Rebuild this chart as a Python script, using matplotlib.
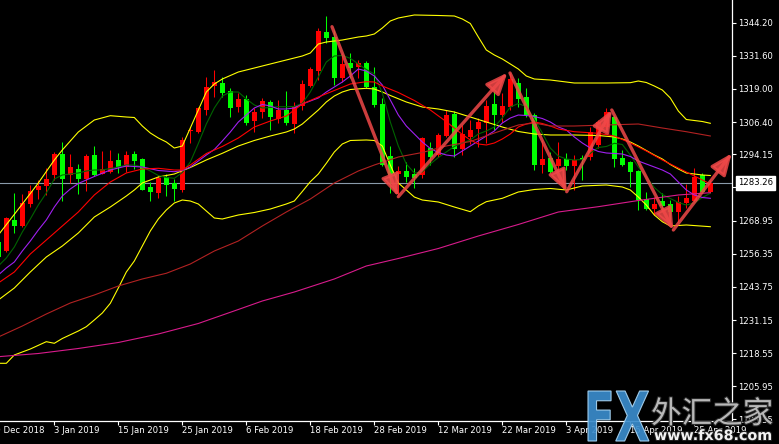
import matplotlib
matplotlib.use("Agg")
import matplotlib.pyplot as plt
import matplotlib.patheffects as pe
from matplotlib import transforms
from matplotlib.textpath import TextPath
from matplotlib.font_manager import FontProperties
from matplotlib.patches import PathPatch

# daily candles, bar index 0 = first (partly hidden) bar
opens = [1260.93, 1257.39, 1269.18, 1266.90, 1275.26, 1280.59, 1282.11, 1286.40, 1294.27, 1286.18,
         1288.57, 1284.77, 1293.89, 1286.67, 1287.55, 1291.99, 1289.45, 1294.27, 1292.26, 1281.84,
         1279.56, 1285.42, 1283.36, 1280.70, 1302.91, 1302.75, 1311.00, 1320.24, 1321.16, 1318.23,
         1312.26, 1315.19, 1306.94, 1310.13, 1313.93, 1307.58, 1311.00, 1305.68, 1312.53, 1320.13,
         1325.83, 1340.55, 1338.88, 1323.06, 1328.99, 1327.47, 1328.76, 1319.64, 1313.29, 1293.51,
         1286.67, 1287.81, 1286.67, 1286.29, 1296.44, 1293.89, 1301.12, 1309.48, 1296.06, 1300.85,
         1303.67, 1306.06, 1313.29, 1309.10, 1312.26, 1321.39, 1315.83, 1309.10, 1290.09, 1292.64,
         1289.71, 1292.37, 1289.71, 1292.87, 1293.25, 1297.70, 1304.54, 1308.46, 1292.87, 1291.35,
         1287.81, 1277.16, 1273.36, 1276.40, 1275.26, 1272.34, 1275.53, 1276.52, 1286.29, 1279.94]
highs = [1261.96, 1270.43, 1279.56, 1279.07, 1282.49, 1284.39, 1289.07, 1295.15, 1298.72, 1294.27,
         1290.47, 1294.16, 1297.32, 1295.42, 1295.80, 1294.77, 1295.53, 1295.53, 1292.64, 1283.74,
         1286.29, 1286.67, 1284.77, 1300.62, 1304.66, 1312.26, 1323.67, 1326.21, 1323.67, 1319.26,
         1317.58, 1316.71, 1311.65, 1315.45, 1314.81, 1314.81, 1318.23, 1314.16, 1322.41, 1327.47,
         1342.07, 1346.75, 1341.42, 1332.56, 1332.79, 1330.02, 1329.64, 1327.47, 1315.45, 1297.32,
         1289.71, 1291.12, 1288.84, 1300.85, 1298.95, 1302.15, 1311.00, 1310.74, 1305.30, 1307.20,
         1307.85, 1314.81, 1318.34, 1317.35, 1325.26, 1323.06, 1319.26, 1309.75, 1299.60, 1295.15,
         1298.95, 1294.54, 1293.89, 1293.89, 1304.54, 1307.20, 1311.77, 1309.10, 1295.80, 1291.60,
         1288.19, 1279.94, 1278.04, 1279.33, 1276.78, 1278.30, 1282.75, 1288.84, 1286.94, 1284.39]
lows = [1254.35, 1257.01, 1264.35, 1266.63, 1274.24, 1277.16, 1278.69, 1284.39, 1276.52, 1283.13,
        1279.07, 1280.21, 1285.90, 1286.48, 1287.05, 1286.94, 1287.55, 1288.46, 1280.40, 1276.52,
        1277.43, 1278.30, 1276.40, 1279.94, 1298.34, 1302.37, 1309.10, 1316.06, 1316.06, 1308.46,
        1310.36, 1305.30, 1302.75, 1307.85, 1303.40, 1305.95, 1305.30, 1302.15, 1311.00, 1319.86,
        1322.41, 1336.37, 1320.51, 1321.77, 1323.06, 1323.06, 1319.26, 1312.26, 1289.83, 1279.33,
        1278.69, 1283.74, 1281.23, 1285.03, 1290.09, 1293.25, 1300.85, 1293.02, 1293.89, 1298.08,
        1297.05, 1298.34, 1303.40, 1306.56, 1311.00, 1312.26, 1308.46, 1288.19, 1286.94, 1286.94,
        1287.55, 1288.19, 1280.59, 1284.39, 1291.99, 1296.56, 1303.40, 1289.45, 1289.71, 1281.84,
        1272.98, 1272.98, 1271.08, 1272.34, 1268.53, 1268.53, 1273.63, 1276.14, 1279.33, 1279.33]
closes = [1255.23, 1270.05, 1266.90, 1275.64, 1280.21, 1282.11, 1284.77, 1294.39, 1284.77, 1289.33,
          1284.77, 1293.63, 1286.29, 1288.57, 1291.73, 1289.45, 1293.89, 1291.73, 1280.70, 1279.94,
          1285.26, 1282.49, 1280.97, 1299.60, 1303.40, 1311.88, 1319.86, 1321.65, 1317.35, 1311.88,
          1315.07, 1305.95, 1310.13, 1314.54, 1308.23, 1311.00, 1305.95, 1312.53, 1320.89, 1326.48,
          1341.16, 1338.27, 1323.06, 1328.50, 1327.09, 1328.99, 1319.64, 1312.91, 1290.09, 1286.29,
          1287.81, 1285.64, 1285.26, 1300.47, 1293.25, 1301.50, 1309.10, 1296.18, 1301.88, 1303.40,
          1306.56, 1312.53, 1309.10, 1312.53, 1322.79, 1315.07, 1309.10, 1290.09, 1292.37, 1287.55,
          1292.37, 1289.83, 1291.99, 1291.99, 1302.64, 1306.44, 1310.24, 1292.37, 1290.09, 1287.55,
          1276.78, 1273.36, 1275.26, 1274.50, 1272.34, 1276.14, 1277.43, 1285.42, 1279.94, 1283.26]

# Bollinger bands (yellow)
bb_up_x = [0, 3, 5, 7, 8, 10, 12, 14, 16, 17, 18, 19, 20, 21, 22, 23, 24, 25, 26, 27, 28, 30, 32, 34,
           36, 38, 39, 40, 41, 43, 45, 46, 47, 48, 49, 50, 51, 52, 55, 57, 58, 59, 60, 61, 62, 63, 64,
           65, 66, 67, 69, 72, 76, 79, 80, 81, 82, 83, 84, 85, 86, 87, 88, 89]
bb_up_y = [1263.47, 1275.26, 1283.25, 1291.99, 1295.80, 1302.64, 1307.20, 1308.84, 1308.34, 1308.15,
           1304.92, 1302.26, 1300.36, 1298.84, 1296.55, 1297.32, 1304.16, 1311.00, 1317.85, 1320.89,
           1322.79, 1325.45, 1326.97, 1328.50, 1330.02, 1331.54, 1332.68, 1336.10, 1336.86, 1337.62,
           1338.76, 1339.14, 1339.90, 1342.18, 1344.85, 1345.99, 1346.56, 1347.13, 1346.94, 1346.75,
           1345.61, 1343.89, 1338.76, 1333.82, 1331.92, 1330.40, 1328.50, 1326.59, 1323.93, 1322.79,
           1322.41, 1321.27, 1321.27, 1321.39, 1322.03, 1321.46, 1320.13, 1318.61, 1315.57, 1310.62,
           1307.39, 1307.01, 1306.63, 1305.95]
bb_mid_x = [0, 2, 4, 6, 8, 10, 12, 14, 16, 17, 18, 20, 22, 24, 26, 28, 30, 32, 34, 36, 37, 38, 39, 40,
            41, 42, 43, 44, 46, 47, 48, 49, 51, 53, 55, 57, 59, 61, 63, 65, 67, 69, 72, 75, 77, 78, 79,
            80, 81, 82, 83, 84, 85, 86, 88, 89]
bb_mid_y = [1238.76, 1243.32, 1249.41, 1255.11, 1259.29, 1264.24, 1270.32, 1274.12, 1278.30, 1280.59,
            1283.25, 1285.53, 1286.67, 1289.14, 1292.00, 1294.54, 1297.32, 1299.41, 1301.12, 1302.64,
            1303.78, 1305.68, 1308.34, 1311.00, 1314.05, 1316.33, 1317.85, 1318.80, 1319.26, 1318.99,
            1317.85, 1316.52, 1314.05, 1312.14, 1311.38, 1310.24, 1308.34, 1306.44, 1304.54, 1302.83,
            1301.88, 1301.50, 1301.50, 1301.31, 1300.74, 1299.98, 1298.84, 1297.32, 1295.60, 1293.89,
            1292.37, 1290.28, 1288.57, 1287.05, 1286.29, 1286.10]
bb_low_x = [0, 1, 2, 4, 6, 7, 8, 10, 11, 12, 13, 14, 15, 16, 17, 18, 19, 20, 21, 22, 23, 24, 25, 26,
            27, 28, 30, 32, 34, 36, 37, 38, 39, 40, 41, 42, 43, 44, 46, 47, 48, 49, 50, 51, 52, 53, 55,
            57, 59, 60, 61, 63, 65, 67, 69, 71, 73, 76, 78, 79, 80, 81, 82, 83, 84, 86, 89]
bb_low_y = [1214.69, 1214.69, 1217.85, 1220.13, 1222.91, 1222.30, 1224.12, 1226.97, 1228.61, 1231.16,
            1233.82, 1237.50, 1243.32, 1249.40, 1253.59, 1259.29, 1265.00, 1269.56, 1272.98, 1275.64,
            1276.78, 1276.40, 1275.26, 1272.60, 1269.94, 1269.56, 1271.08, 1272.03, 1273.36, 1275.26,
            1276.40, 1280.02, 1283.74, 1286.67, 1290.74, 1295.04, 1298.08, 1299.41, 1299.60, 1299.41,
            1297.32, 1290.09, 1283.25, 1280.59, 1277.92, 1276.78, 1276.02, 1274.12, 1272.34, 1274.50,
            1276.14, 1277.43, 1279.83, 1280.78, 1281.16, 1280.59, 1282.11, 1282.49, 1281.73, 1280.59,
            1277.92, 1274.88, 1271.08, 1268.53, 1266.90, 1267.28, 1266.63]

# moving averages
ma_fast = [1251.69, 1254.73, 1258.91, 1264.62, 1269.56, 1274.88, 1279.45, 1284.77, 1286.29, 1286.67,
           1287.05, 1287.81, 1288.19, 1288.19, 1288.76, 1289.33, 1290.09, 1290.09, 1289.33, 1287.81,
           1286.10, 1285.34, 1285.03, 1287.24, 1291.23, 1298.27, 1305.68, 1311.77, 1316.33, 1317.85,
           1317.85, 1315.19, 1312.91, 1311.77, 1311.96, 1312.26, 1312.26, 1312.34, 1313.55, 1317.85,
           1323.55, 1329.25, 1331.54, 1331.73, 1330.66, 1328.50, 1326.40, 1324.69, 1317.47, 1306.44,
           1297.32, 1290.47, 1287.05, 1287.43, 1290.47, 1292.94, 1295.04, 1297.13, 1298.46, 1299.60,
           1301.88, 1303.02, 1304.54, 1307.96, 1312.14, 1313.48, 1312.26, 1307.58, 1302.26, 1296.55,
           1293.51, 1292.37, 1291.99, 1292.18, 1294.54, 1296.75, 1297.13, 1298.34, 1297.89, 1293.89,
           1289.33, 1285.53, 1281.54, 1278.88, 1277.35, 1275.83, 1274.88, 1275.64, 1277.73, 1279.33]
ma_purple_x = [0, 1, 2, 3, 4, 5, 6, 7, 8, 9, 10, 12, 14, 16, 18, 20, 22, 23, 24, 25, 26, 27, 28, 29,
               30, 31, 32, 33, 34, 35, 36, 37, 38, 39, 40, 41, 42, 43, 44, 45, 46, 47, 48, 49, 50, 51,
               52, 53, 54, 55, 56, 57, 58, 59, 60, 61, 62, 63, 64, 65, 66, 67, 68, 69, 70, 71, 72, 73,
               74, 75, 76, 78, 79, 80, 81, 82, 83, 84, 85, 86, 87, 88, 89]
ma_purple_y = [1248.27, 1250.93, 1253.21, 1257.39, 1261.19, 1265.37, 1269.18, 1274.12, 1278.30, 1280.97,
               1283.06, 1285.72, 1288.19, 1289.71, 1289.33, 1288.00, 1287.54, 1288.00, 1289.33, 1291.61,
               1293.89, 1295.99, 1299.22, 1302.64, 1306.44, 1309.10, 1311.77, 1313.10, 1312.53, 1311.39,
               1311.39, 1311.77, 1313.29, 1314.43, 1315.57, 1317.85, 1319.75, 1321.65, 1323.93, 1326.59,
               1325.83, 1323.93, 1320.51, 1314.81, 1309.10, 1304.92, 1301.88, 1298.84, 1296.37, 1294.85,
               1293.89, 1293.51, 1295.42, 1297.32, 1299.22, 1301.12, 1303.02, 1306.06, 1307.96, 1309.10,
               1308.91, 1308.53, 1307.77, 1306.44, 1304.54, 1303.40, 1300.74, 1298.46, 1296.56, 1295.23,
               1294.66, 1294.27, 1293.32, 1291.61, 1290.47, 1289.33, 1288.19, 1286.67, 1283.63, 1280.59,
               1278.69, 1277.73, 1277.43]
ma_red_x = [0, 2, 4, 6, 8, 10, 12, 14, 16, 18, 20, 22, 23, 24, 26, 28, 30, 32, 34, 36, 38, 40, 42, 44,
            46, 47, 48, 50, 52, 54, 56, 58, 59, 60, 61, 62, 63, 64, 65, 66, 67, 68, 69, 70, 72, 75, 77,
            79, 81, 83, 85, 87, 89]
ma_red_y = [1245.22, 1249.41, 1256.25, 1261.57, 1266.90, 1272.22, 1278.69, 1283.63, 1287.05, 1288.57,
            1288.84, 1288.19, 1288.19, 1290.09, 1294.46, 1297.13, 1300.36, 1304.54, 1306.82, 1308.72,
            1313.29, 1315.95, 1318.42, 1320.89, 1321.77, 1321.65, 1320.13, 1317.66, 1314.62, 1311.00,
            1306.56, 1301.69, 1299.60, 1298.08, 1297.70, 1298.46, 1299.98, 1301.88, 1304.54, 1305.68,
            1306.44, 1305.87, 1304.92, 1303.78, 1302.75, 1302.15, 1301.12, 1298.46, 1295.42, 1291.99,
            1288.95, 1285.91, 1282.87]
ma_brown_x = [0, 3, 6, 9, 12, 15, 18, 21, 24, 27, 30, 33, 36, 39, 42, 45, 47, 50, 53, 56, 59, 62, 65,
              67, 69, 72, 76, 80, 83, 86, 89]
ma_brown_y = [1224.69, 1228.87, 1233.43, 1237.62, 1240.66, 1244.08, 1246.75, 1248.92, 1252.45, 1257.39,
              1261.19, 1266.90, 1272.22, 1277.16, 1283.25, 1287.81, 1290.09, 1293.13, 1294.85, 1297.32,
              1299.03, 1302.26, 1305.30, 1306.06, 1304.92, 1304.92, 1305.30, 1305.68, 1304.16, 1302.75,
              1301.12]
ma_slow_x = [0, 5, 10, 15, 20, 25, 30, 33, 37, 42, 46, 50, 55, 60, 65, 70, 75, 80, 85, 89]
ma_slow_y = [1217.20, 1218.42, 1220.32, 1222.60, 1225.83, 1229.83, 1235.15, 1238.38, 1241.80, 1246.75,
             1251.69, 1254.54, 1258.34, 1263.09, 1267.47, 1272.22, 1274.24, 1276.59, 1278.69, 1279.56]

# hand-drawn swing arrows (bar index, price)
arrow_from = [(41.71, 1342.68), (50.0, 1278.04), (63.96, 1325.07), (71.05, 1279.94), (76.68, 1311.00), (84.38, 1265.38)]
arrow_to = [(50.0, 1278.04), (63.63, 1325.19), (71.05, 1279.94), (76.68, 1311.00), (84.38, 1265.38), (91.68, 1294.54)]

date_ticks = [-1, 7, 15, 23, 31, 39, 47, 55, 63, 71, 79, 87]
date_labels = ['20 Dec 2018', '3 Jan 2019', '15 Jan 2019', '25 Jan 2019', '6 Feb 2019', '18 Feb 2019',
               '28 Feb 2019', '12 Mar 2019', '22 Mar 2019', '3 Apr 2019', '15 Apr 2019', '25 Apr 2019']
price_ticks = [1344.20, 1331.60, 1319.00, 1306.40, 1294.15, 1281.55, 1268.95, 1256.35,
               1243.75, 1231.15, 1218.55, 1205.95, 1193.35]
last_price = 1283.26

W, H = 779, 444
fig = plt.figure(figsize=(W / 100, H / 100), dpi=100, facecolor='black')
ax = fig.add_axes([0, 23 / H, 732 / W, 421 / H], facecolor='black')
ax.set_xlim(0.21, 91.71)
ax.set_ylim(1192.75, 1352.83)

# candles: red = up, green = down
idx = list(range(len(opens)))
cols = ['#ff0000' if c >= o else '#00ff00' for o, c in zip(opens, closes)]
ax.vlines(idx, lows, highs, colors=cols, lw=0.75, zorder=2)
ax.bar(idx, [abs(c - o) for o, c in zip(opens, closes)],
       bottom=[min(o, c) for o, c in zip(opens, closes)],
       width=0.62, color=cols, linewidth=0, zorder=2)

ax.axhline(last_price, color='#8a9aaa', lw=0.8, zorder=1)

lw = 0.8
ax.plot(bb_up_x, bb_up_y, color='#ffff00', lw=lw, zorder=3)
ax.plot(bb_mid_x, bb_mid_y, color='#ffff00', lw=lw, zorder=3)
ax.plot(bb_low_x, bb_low_y, color='#ffff00', lw=lw, zorder=3)
ax.plot(idx, ma_fast, color='#006400', lw=lw, zorder=3)
ax.plot(ma_purple_x, ma_purple_y, color='#a020f0', lw=lw, zorder=3)
ax.plot(ma_red_x, ma_red_y, color='#ff0000', lw=lw, zorder=3)
ax.plot(ma_brown_x, ma_brown_y, color='#b22222', lw=lw, zorder=3)
ax.plot(ma_slow_x, ma_slow_y, color='#d81b8c', lw=lw, zorder=3)

for a, b in zip(arrow_from, arrow_to):
    ax.annotate('', xy=b, xytext=a, annotation_clip=False, zorder=5,
                arrowprops=dict(arrowstyle='-|>,head_length=1.0,head_width=0.42',
                                lw=2.4, color='#f04848', alpha=0.85,
                                shrinkA=0, shrinkB=0, mutation_scale=13))

for s in ['top', 'left']:
    ax.spines[s].set_visible(False)
for s in ['right', 'bottom']:
    ax.spines[s].set_color('white')
    ax.spines[s].set_linewidth(0.9)

fsize = 6.1
ax.yaxis.tick_right()
ax.set_yticks(price_ticks)
ax.set_yticklabels([f'{p:.2f}' for p in price_ticks])
ax.tick_params(axis='y', direction='out', length=3, width=0.8, colors='white',
               labelsize=fsize, pad=1.2)
ax.set_xticks([t for t in date_ticks if t > 0.21])
ax.tick_params(axis='x', direction='out', length=3, width=0.8, colors='white', labelbottom=False)
bt = transforms.blended_transform_factory(ax.transData, ax.transAxes)
for t, lab in zip(date_ticks, date_labels):
    ax.text(t, -0.023, lab, transform=bt, ha='left', va='center', color='white',
            fontsize=fsize, clip_on=False)

rt = transforms.blended_transform_factory(ax.transAxes, ax.transData)
ax.text(1.008, last_price, f'{last_price:.2f}', transform=rt, ha='left', va='center',
        color='black', fontsize=fsize, zorder=6,
        bbox=dict(facecolor='white', edgecolor='white', pad=1.6))

# watermark
tp = TextPath((0, 0), 'FX', size=1, prop=FontProperties(family='DejaVu Sans', weight='bold'))
ext = tp.get_extents()
tr = (transforms.Affine2D().translate(-ext.x0, -ext.y0)
      .scale(61 / ext.width, 50 / ext.height).translate(588, H - 441))
fig.add_artist(PathPatch(tp, transform=tr, facecolor='#3a8ccc', edgecolor='#a8d4f2',
                         lw=0.8, alpha=0.92, zorder=10))
fig.text(651 / W, (H - 430) / H, '外汇之家', fontsize=22, family='Noto Sans CJK SC',
         color='#b8b8b8', ha='left', va='bottom', zorder=11,
         path_effects=[pe.withStroke(linewidth=1.5, foreground='#2a2a2a')])
fig.text(654 / W, (H - 443) / H, 'www.fx68.com', fontsize=10.3, family='DejaVu Sans',
         weight='bold', color='#f2f2f2', ha='left', va='bottom', zorder=12,
         path_effects=[pe.withStroke(linewidth=1.5, foreground='#202020')])

fig.savefig('out.png', dpi=100, facecolor='black')
